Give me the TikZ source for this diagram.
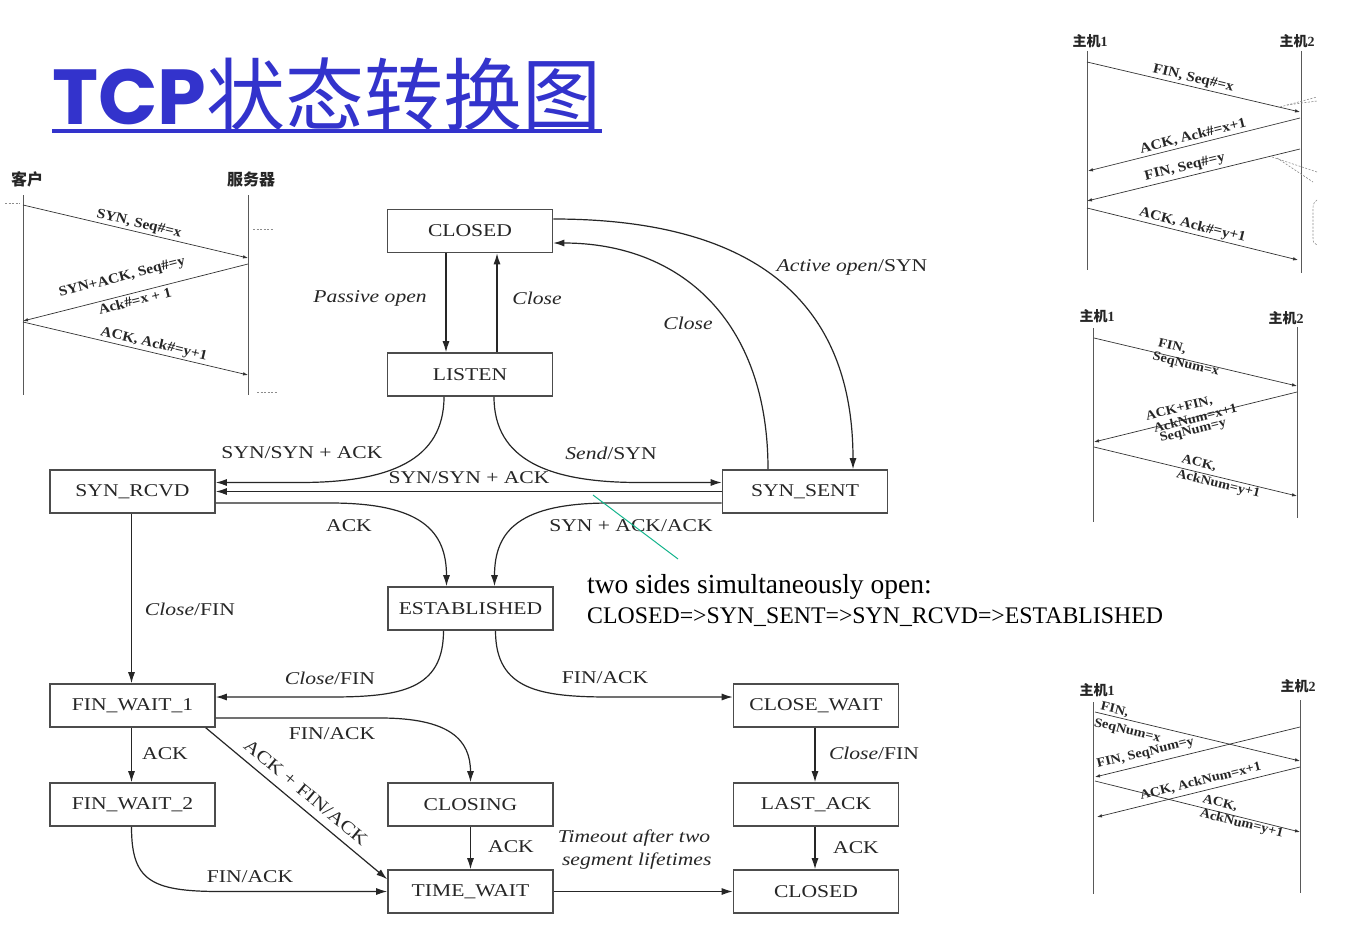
\documentclass[tikz,border=0pt]{standalone}
\usepackage{fontspec}
\setmainfont{Liberation Serif}
\newfontfamily\dgf[FakeStretch=1.2]{Liberation Serif}
\newfontfamily\sqf[FakeStretch=1.1]{Liberation Serif}
\newfontfamily\cjk{Noto Sans CJK SC}
\newfontfamily\ttlf{Poppins}
\usetikzlibrary{arrows.meta}
\definecolor{titleblue}{RGB}{51,51,204}
\definecolor{annogreen}{RGB}{20,180,140}
\tikzset{
  box/.style={draw=black!70, line width=1.6pt, minimum width=165pt, minimum height=43pt, inner sep=0pt,
    font=\dgf\fontsize{18}{22}\selectfont, text=black!85},
  lbl/.style={inner sep=0pt, font=\dgf\fontsize{18}{23}\selectfont, text=black!85},
  tr/.style={draw=black!85, line width=1.2pt, -{Latex[length=11pt,width=7pt]}},
  sq/.style={draw=black!80, line width=0.7pt, -{Latex[length=5pt,width=3.5pt]}},
  life/.style={draw=black!65, line width=0.7pt},
  sqA/.style={inner sep=0pt, sloped, text=black!85, font=\sqf\bfseries\fontsize{14}{15}\selectfont},
  sqB/.style={inner sep=0pt, sloped, text=black!85, font=\sqf\bfseries\fontsize{13}{14}\selectfont},
  cjkA/.style={inner sep=0pt, text=black!85, font=\cjk\bfseries\fontsize{16}{17}\selectfont},
  cjkB/.style={inner sep=0pt, text=black!85, font=\fontsize{14}{15}\selectfont},
  dsh/.style={draw=black!45, line width=0.6pt, dash pattern=on 2pt off 1.5pt},
}
\begin{document}
\begin{tikzpicture}[x=1pt,y=-1pt]
\useasboundingbox (0,0) rectangle (1349,934);
\fill[white] (0,0) rectangle (1349,934);

% ---------- title ----------
\node[anchor=base west, inner sep=0pt, text=titleblue, font=\ttlf\bfseries\fontsize{78}{80}\selectfont] (tcp) at (52,124) {TCP};
\node[anchor=base west, inner sep=0pt, text=titleblue, font=\cjk\fontsize{79}{80}\selectfont] (ttlcn) at (tcp.base east) {状态转换图};
\draw[titleblue, line width=3.5pt] ([yshift=-7pt]tcp.base west) -- ([yshift=-7pt]ttlcn.base east);

% ---------- state boxes ----------
\node[box] (closedT) at (470,231) {CLOSED};
\node[box] (listen) at (470,374.5) {LISTEN};
\node[box] (synrcvd) at (132.5,491.5) {SYN\_RCVD};
\node[box] (synsent) at (805,491.5) {SYN\_SENT};
\node[box] (estab) at (470.5,608.5) {ESTABLISHED};
\node[box] (fw1) at (132.5,705.5) {FIN\_WAIT\_1};
\node[box] (closewait) at (816,705.5) {CLOSE\_WAIT};
\node[box] (fw2) at (132.5,804.5) {FIN\_WAIT\_2};
\node[box] (closing) at (470.5,804.5) {CLOSING};
\node[box] (lastack) at (816,804.5) {LAST\_ACK};
\node[box] (timewait) at (470.5,891.5) {TIME\_WAIT};
\node[box] (closedB) at (816,891.5) {CLOSED};

% ---------- transitions ----------
\draw[tr] ([xshift=-24pt]closedT.south) -- ([xshift=-24pt]listen.north);
\draw[tr] ([xshift=27pt]listen.north) -- ([xshift=27pt]closedT.south);
\draw[tr] ([yshift=12pt]closedT.east) .. controls (740,219) and (853,290) .. ([xshift=48pt]synsent.north);
\draw[tr] ([xshift=-37pt]synsent.north) .. controls (768,320) and (680,243) .. ([yshift=-12pt]closedT.east);
\draw[tr] ([xshift=-26pt]listen.south) .. controls (444,460) and (390,482.5) .. (300,482.5) -- ([yshift=9pt]synrcvd.east);
\draw[tr] ([xshift=24pt]listen.south) .. controls (494,460) and (549,482.5) .. (639,482.5) -- ([yshift=9pt]synsent.west);
\draw[tr] (synsent.west) -- (synrcvd.east);
\draw[tr] ([yshift=-11.5pt]synrcvd.east) -- (330,503) .. controls (420,503) and (446.5,530) .. ([xshift=-24pt]estab.north);
\draw[tr] ([yshift=-11.5pt]synsent.west) -- (610,503) .. controls (520,503) and (494.5,530) .. ([xshift=24pt]estab.north);
\draw[tr] ([xshift=-1pt]synrcvd.south) -- ([xshift=-1pt]fw1.north);
\draw[tr] ([xshift=-27pt]estab.south) .. controls (443.5,690) and (400,697) .. (330,697) -- ([yshift=8.5pt]fw1.east);
\draw[tr] ([xshift=25pt]estab.south) .. controls (495.5,690) and (540,697) .. (610,697) -- ([yshift=8.5pt]closewait.west);
\draw[tr] ([xshift=-1pt]fw1.south) -- ([xshift=-1pt]fw2.north);
\draw[tr] ([yshift=-12.5pt]fw1.east) -- (380,718) .. controls (450,718) and (470.5,740) .. (closing.north);
\draw[tr] ([xshift=-10pt]fw1.south east) -- node[lbl, sloped, above=8pt, pos=0.5] (lAckFin) {ACK + FIN/ACK} ([yshift=-10pt]timewait.north west);
\draw[tr] ([xshift=-1pt]fw2.south) .. controls (131.5,880) and (150,891.5) .. (220,891.5) -- (timewait.west);
\draw[tr] (closing.south) -- (timewait.north);
\draw[tr] (timewait.east) -- (closedB.west);
\draw[tr] ([xshift=-1pt]closewait.south) -- ([xshift=-1pt]lastack.north);
\draw[tr] ([xshift=-1pt]lastack.south) -- ([xshift=-1pt]closedB.north);

% ---------- transition labels ----------
\node[lbl] (lPassive) at (370,298) {\itshape Passive open};
\node[lbl] (lClose1) at (537,298) {\itshape Close};
\node[lbl] (lActive) at (852,267) {\textit{Active open}/SYN};
\node[lbl] (lClose2) at (688,323) {\itshape Close};
\node[lbl] (lSynA) at (302,453) {SYN/SYN + ACK};
\node[lbl] (lSend) at (611,453) {\textit{Send}/SYN};
\node[lbl] (lSynB) at (469,478) {SYN/SYN + ACK};
\node[lbl] (lAck1) at (349,526) {ACK};
\node[lbl] (lSynAck) at (631,526) {SYN + ACK/ACK};
\node[lbl] (lCF1) at (190,609) {\textit{Close}/FIN};
\node[lbl] (lCF2) at (330,678) {\textit{Close}/FIN};
\node[lbl] (lFA1) at (605,678) {FIN/ACK};
\node[lbl] (lAck2) at (165,754) {ACK};
\node[lbl] (lFA2) at (332,734) {FIN/ACK};
\node[lbl] (lFA3) at (250,877) {FIN/ACK};
\node[lbl] (lAck3) at (511,847) {ACK};
\node[lbl, align=center] (lTimeout) at (634,850) {\itshape Timeout after two\\\itshape \ segment lifetimes};
\node[lbl] (lCF3) at (874,753) {\textit{Close}/FIN};
\node[lbl] (lAck4) at (856,848) {ACK};

% ---------- annotation ----------
\coordinate (gA) at (593,495);
\coordinate (gB) at (678,559);
\draw[annogreen, line width=1pt] (gA) -- (gB);
\node[anchor=base west, inner sep=0pt, font=\fontsize{27.5}{30}\selectfont] (ann1) at (587,593) {two sides simultaneously open:};
\node[anchor=base west, inner sep=0pt, font=\fontsize{23.8}{26}\selectfont] (ann2) at (587,623) {CLOSED=>SYN\_SENT=>SYN\_RCVD=>ESTABLISHED};

% ---------- three-way handshake ----------
\node[cjkA] (kehu) at (27,179) {客户};
\node[cjkA] (fwq) at (251,179) {服务器};
\coordinate (c1t) at (23,195); \coordinate (c1b) at (23,395);
\coordinate (s1t) at (248,195); \coordinate (s1b) at (248,395);
\draw[life] (c1t) -- (c1b);
\draw[life] (s1t) -- (s1b);
\coordinate (h1a) at (23,205); \coordinate (h1b) at (248,258);
\coordinate (h2a) at (248,264); \coordinate (h2b) at (23,321);
\coordinate (h3a) at (23,322); \coordinate (h3b) at (248,375);
\draw[sq] (h1a) -- node[sqA, pos=0.507, above=1.5pt] (hl1) {SYN, Seq\#=x} (h1b);
\draw[sq] (h2a) -- node[sqA, pos=0.54, above=11pt] (hl2) {SYN+ACK, Seq\#=y} node[sqA, pos=0.511, below=2.5pt] (hl3) {Ack\#=x + 1} (h2b);
\draw[sq] (h3a) -- node[sqA, pos=0.573, above=1.5pt] (hl4) {ACK, Ack\#=y+1} (h3b);
\coordinate (d1a) at (5,203); \coordinate (d1b) at (20,203);
\coordinate (d2a) at (253,229); \coordinate (d2b) at (273,229);
\coordinate (d3a) at (257,392); \coordinate (d3b) at (277,392);
\draw[dsh] (d1a) -- (d1b);
\draw[dsh] (d2a) -- (d2b);
\draw[dsh] (d3a) -- (d3b);

% ---------- four-way close (top right) ----------
\node[cjkB] (ta1) at (1090,41) {{\cjk\bfseries 主机}\textbf{1}};
\node[cjkB] (ta2) at (1297,41) {{\cjk\bfseries 主机}\textbf{2}};
\coordinate (tl1t) at (1087,51); \coordinate (tl1b) at (1087,270);
\coordinate (tl2t) at (1301,51); \coordinate (tl2b) at (1301,273);
\draw[life] (tl1t) -- (tl1b);
\draw[life] (tl2t) -- (tl2b);
\coordinate (t1a) at (1087,62); \coordinate (t1b) at (1300,112);
\coordinate (t2a) at (1300,118); \coordinate (t2b) at (1088,171);
\coordinate (t3a) at (1300,149); \coordinate (t3b) at (1087,201);
\coordinate (t4a) at (1087,208); \coordinate (t4b) at (1298,260);
\draw[sq] (t1a) -- node[sqA, pos=0.49, above=1.5pt] (tx1) {FIN, Seq\#=x} (t1b);
\draw[sq] (t2a) -- node[sqA, pos=0.495, above=2pt] (tx2) {ACK, Ack\#=x+1} (t2b);
\draw[sq] (t3a) -- node[sqA, pos=0.53, above=3pt] (tx3) {FIN, Seq\#=y} (t3b);
\draw[sq] (t4a) -- node[sqA, pos=0.49, above=1.5pt] (tx4) {ACK, Ack\#=y+1} (t4b);
\coordinate (te1a) at (1280,107); \coordinate (te1b) at (1317,97);
\coordinate (te2a) at (1287,105); \coordinate (te2b) at (1317,101);
\coordinate (te3a) at (1272,157); \coordinate (te3b) at (1317,172);
\coordinate (te4a) at (1277,158); \coordinate (te4b) at (1313,182);
\draw[dsh] (te1a) -- (te1b);
\draw[dsh] (te2a) -- (te2b);
\draw[dsh] (te3a) -- (te3b);
\draw[dsh] (te4a) -- (te4b);
\coordinate (tbr1) at (1317,200); \coordinate (tbr2) at (1317,245);
\draw[dsh] (tbr1) .. controls (1312,203) and (1313,208) .. (1313,214) -- (1313,238) .. controls (1313,242) and (1314,244) .. (tbr2);

% ---------- three-way close (middle right) ----------
\node[cjkB] (ma1) at (1097,316) {{\cjk\bfseries 主机}\textbf{1}};
\node[cjkB] (ma2) at (1286,318) {{\cjk\bfseries 主机}\textbf{2}};
\coordinate (ml1t) at (1093,328); \coordinate (ml1b) at (1093,522);
\coordinate (ml2t) at (1297,327); \coordinate (ml2b) at (1297,518);
\draw[life] (ml1t) -- (ml1b);
\draw[life] (ml2t) -- (ml2b);
\coordinate (m1a) at (1094,338); \coordinate (m1b) at (1297,386);
\coordinate (m2a) at (1297,392); \coordinate (m2b) at (1094,442);
\coordinate (m3a) at (1094,447); \coordinate (m3b) at (1297,496);
\draw[sq] (m1a) -- node[sqB, pos=0.374, above=4pt] (mx1) {FIN,} node[sqB, pos=0.458, below=-1pt] (mx2) {SeqNum=x} (m1b);
\draw[sq] (m2a) -- node[sqB, pos=0.567, above=6pt] (mx3) {ACK+FIN,} node[sqB, pos=0.502, below=-4pt] (mx4) {AckNum=x+1} node[sqB, pos=0.527, below=7pt] (mx5) {SeqNum=y} (m2b);
\draw[sq] (m3a) -- node[sqB, pos=0.507, above=3pt] (mx6) {ACK,} node[sqB, pos=0.62, below=1pt] (mx7) {AckNum=y+1} (m3b);

% ---------- simultaneous close (bottom right) ----------
\node[cjkB] (ba1) at (1097,690) {{\cjk\bfseries 主机}\textbf{1}};
\node[cjkB] (ba2) at (1298,686) {{\cjk\bfseries 主机}\textbf{2}};
\coordinate (bl1t) at (1093,702); \coordinate (bl1b) at (1093,894);
\coordinate (bl2t) at (1300,700); \coordinate (bl2b) at (1300,893);
\draw[life] (bl1t) -- (bl1b);
\draw[life] (bl2t) -- (bl2b);
\coordinate (b1a) at (1095,712); \coordinate (b1b) at (1300,761);
\coordinate (b2a) at (1300,727); \coordinate (b2b) at (1095,777);
\coordinate (b3a) at (1300,767); \coordinate (b3b) at (1097,817);
\coordinate (b4a) at (1095,781); \coordinate (b4b) at (1300,832);
\draw[sq] (b1a) -- node[sqB, pos=0.088, above=1pt] (bx1) {FIN,} node[sqB, pos=0.17, below=5pt] (bx2) {SeqNum=x} (b1b);
\draw[sq] (b2a) -- node[sqB, pos=0.741, above=5pt] (bx3) {FIN, SeqNum=y} (b2b);
\draw[sq] (b3a) -- node[sqB, pos=0.478, above=4pt] (bx4) {ACK, AckNum=x+1} (b3b);
\draw[sq] (b4a) -- node[sqB, pos=0.6, above=3pt] (bx5) {ACK,} node[sqB, pos=0.722, below=0pt] (bx6) {AckNum=y+1} (b4b);
\end{tikzpicture}
\end{document}
